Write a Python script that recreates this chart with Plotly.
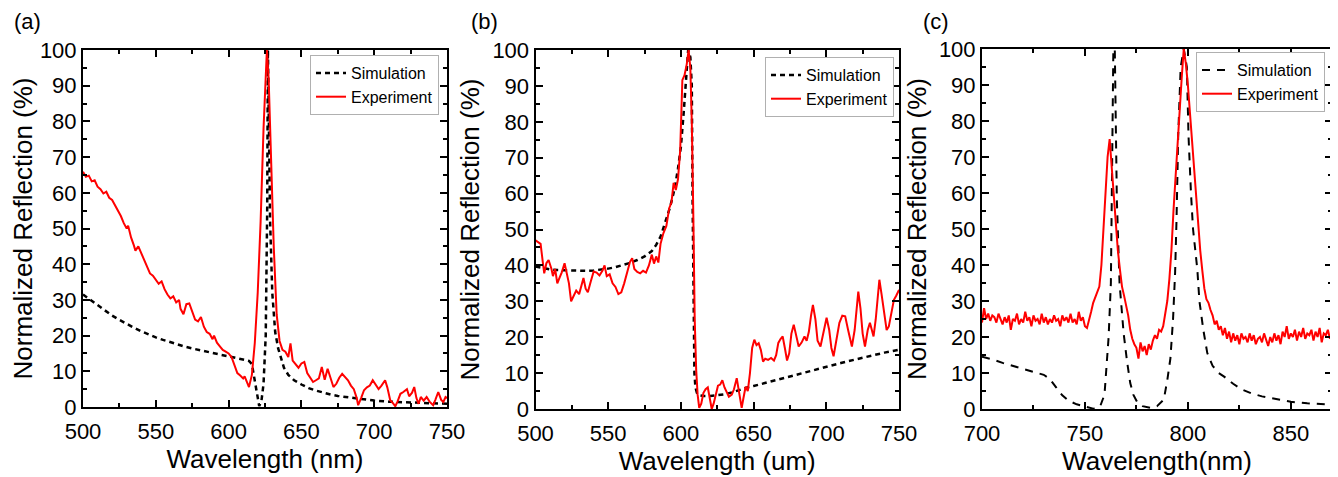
import plotly.graph_objects as go

# ---------------- Panel (a) ----------------
a_sim_x = [500, 505, 510, 515, 520, 525, 530, 535, 540, 545, 550, 555, 560, 565, 570, 575, 580, 585,
           590, 595, 600, 605, 610, 614, 616, 618, 619.5, 621, 622.5, 624, 625.5, 626.5, 627, 627.5,
           628.5, 630, 632, 634, 636, 638, 641, 645, 650, 655, 660, 665, 670, 675, 680, 690, 700, 710,
           720, 730, 740, 750]
a_sim_y = [31.5, 30.0, 28.5, 27.0, 25.6, 24.4, 23.2, 22.2, 21.2, 20.3, 19.5, 18.8, 18.1, 17.5, 16.9, 16.4,
           15.9, 15.4, 15.0, 14.6, 14.2, 13.7, 13.2, 12.9, 12.0, 7.0, 3.0, 0.3, 1.5, 6.5, 20.0, 55.0, 100.0,
           85.0, 52.0, 32.0, 21.0, 16.5, 13.5, 11.0, 9.0, 7.5, 6.3, 5.3, 4.6, 4.0, 3.5, 3.1, 2.8, 2.2, 1.8,
           1.5, 1.3, 1.1, 1.0, 0.9]

a_exp_x = [500, 502, 504, 506, 508, 510, 512, 514, 516, 518, 520, 522, 524, 526, 528, 530, 531, 533, 535,
           536, 538, 540, 542, 544, 546, 548, 550, 552, 554, 556, 558, 560, 562, 564, 566, 567, 569, 571,
           573, 575, 577, 579, 581, 583, 585, 587, 589, 590, 592, 594, 596, 598, 600, 602, 604, 606, 608,
           610, 611, 613, 614, 616, 618, 620, 622, 624, 625.5, 626.3, 627.5, 629, 631, 633, 635, 637, 639,
           641, 642.5, 644, 646, 648, 650, 652, 654, 656, 658, 660, 662, 664, 666, 668, 670, 672, 674, 676,
           678, 680, 682, 684, 686, 688, 689, 691, 693, 695, 697, 699, 701, 703, 705, 707.5, 709, 711, 713,
           714.5, 716, 718, 720, 722.5, 724, 726, 727.5, 729, 730.5, 732, 734, 736, 738, 740.5, 742, 744,
           746, 747.5, 749, 750]
a_exp_y = [65.9, 64.5, 64.8, 63.2, 63.5, 61.7, 61.0, 59.8, 60.3, 58.6, 58.0, 56.5, 55.0, 53.5, 51.5, 50.0,
           50.8, 47.5, 45.2, 43.8, 45.0, 43.0, 41.5, 39.5, 37.4, 36.8, 35.8, 34.5, 35.2, 33.0, 31.5, 30.4,
           31.0, 29.3, 30.0, 27.5, 26.0, 28.8, 29.0, 27.0, 24.5, 24.0, 25.2, 22.5, 21.0, 20.5, 19.0, 20.0,
           18.0, 17.0, 16.0, 15.5, 15.0, 14.0, 11.5, 9.5, 8.8, 8.0, 8.6, 6.5, 5.6, 9.0, 18.0, 32.0, 52.0,
           78.0, 95.0, 100.0, 92.0, 72.0, 45.0, 26.0, 18.5, 16.0, 15.5, 14.0, 17.8, 13.0, 12.0, 11.0, 12.2,
           12.6, 9.5, 8.4, 7.0, 7.5, 8.0, 11.2, 7.6, 10.7, 8.0, 5.6, 6.5, 8.2, 9.3, 8.5, 7.5, 6.0, 5.0, 2.5,
           0.5, 2.5, 4.7, 5.5, 6.0, 7.5, 6.2, 5.0, 6.0, 7.5, 5.5, 1.9, 1.0, 0.2, 1.5, 3.7, 4.2, 5.0, 3.0,
           4.0, 5.6, 2.5, 0.9, 2.8, 1.8, 2.8, 1.5, 0.5, 2.0, 4.2, 2.0, 1.4, 2.8, 2.5]

# ---------------- Panel (b) ----------------
b_sim_x = [500, 505, 510, 515, 520, 525, 530, 535, 540, 545, 550, 555, 560, 565, 570, 575, 580, 583, 586,
           589, 592, 594, 596, 598, 600, 602, 604, 605, 606.5, 607.5, 608, 608.7, 609.3, 610, 611, 613,
           616, 620, 625, 630, 635, 640, 645, 650, 660, 670, 680, 690, 700, 710, 720, 730, 740, 750]
b_sim_y = [39.7, 39.2, 38.9, 38.7, 38.6, 38.5, 38.5, 38.5, 38.6, 38.8, 39.1, 39.5, 40.0, 40.7, 41.5, 42.5,
           44.0, 45.7, 48.0, 51.5, 55.5, 58.5, 62.0, 67.0, 73.0, 83.0, 93.0, 100.0, 98.0, 90.0, 60.0, 25.0,
           10.0, 6.0, 4.5, 3.8, 3.6, 3.6, 3.8, 4.1, 4.6, 5.3, 5.9, 6.4, 7.5, 8.6, 9.7, 10.8, 11.8, 12.8,
           13.8, 14.8, 15.7, 16.5]

b_exp_x = [500, 502, 503.5, 505, 506, 507.5, 509, 511, 512, 513.5, 515, 516.5, 518, 520, 521.5, 523, 524.5,
           526, 528, 530, 531.5, 533, 534.5, 536, 538, 540, 542, 544, 546, 547.5, 549, 551, 553, 555, 557,
           559, 561, 563, 565, 566.5, 568, 570, 572, 574, 576, 578, 580, 581.5, 583, 584.5, 586, 588, 590,
           592, 593.5, 595, 596.5, 598, 599.5, 601, 602.5, 604, 605.3, 606.5, 607.5, 608.5, 609.5, 610.5,
           611.5, 612.6, 614, 615.5, 617, 618.5, 620, 621.2, 622.5, 624, 625.5, 627, 628.5, 630, 631.5,
           633, 635, 636.5, 638.4, 640, 641.8, 643, 644.5, 646, 647.5, 649, 650.5, 652, 653.5, 655, 656.5,
           658, 660, 662, 664, 665.5, 667, 668.5, 670, 671.5, 673, 674.5, 676, 677.6, 679, 681, 683, 685,
           686.5, 688, 689.5, 690.8, 692.5, 694, 696, 698, 700.2, 702, 703.5, 705, 707, 709, 711, 713, 715,
           717.6, 719.5, 721, 722, 723.5, 725, 726.6, 728.5, 730, 731.5, 732.5, 734, 735.5, 736.5, 738, 740,
           741.5, 743, 745, 746.5, 748, 750]
b_exp_y = [47.0, 46.5, 46.0, 41.0, 37.8, 40.6, 41.5, 39.0, 37.0, 39.0, 35.0, 36.5, 38.0, 40.6, 38.0, 35.0,
           30.0, 31.5, 33.0, 32.0, 34.5, 36.5, 33.5, 32.5, 35.5, 38.3, 38.0, 37.2, 38.5, 40.0, 37.0, 37.5,
           35.0, 34.0, 32.0, 32.5, 35.0, 38.0, 41.0, 42.0, 39.0, 38.2, 37.8, 38.5, 38.0, 40.0, 43.0, 40.5,
           42.5, 40.8, 46.0, 49.0, 51.0, 56.0, 57.5, 63.0, 61.0, 64.0, 72.0, 91.6, 93.0, 96.0, 100.0, 95.0,
           80.0, 55.0, 25.0, 11.0, 4.0, 0.3, 1.5, 4.5, 5.5, 6.0, 2.0, 0.0, 1.5, 4.0, 6.5, 6.8, 8.0, 6.0,
           4.5, 3.4, 4.0, 5.5, 8.6, 4.0, 0.3, 3.0, 6.2, 5.0, 10.0, 17.0, 19.3, 17.8, 18.3, 16.4, 13.2, 14.0,
           13.7, 14.2, 13.5, 15.0, 18.4, 19.5, 20.2, 17.0, 13.5, 15.5, 21.0, 23.5, 21.0, 17.4, 18.5, 20.2,
           19.0, 21.5, 26.0, 29.0, 25.0, 19.0, 17.4, 21.0, 25.4, 22.0, 17.0, 14.7, 19.0, 24.0, 26.0, 25.8,
           22.0, 17.4, 22.0, 28.0, 32.7, 28.0, 21.0, 17.4, 22.0, 24.0, 21.5, 20.2, 25.0, 33.0, 36.0, 32.0,
           26.0, 22.0, 23.0, 27.0, 30.4, 31.5, 33.2]

# ---------------- Panel (c) ----------------
c_sim_x = [700, 705, 710, 715, 720, 725, 730, 733, 736, 739, 742, 746, 750, 754, 756, 757.5, 759.5, 760.6,
           761.5, 762.6, 763.1, 763.8, 764.5, 764.9, 765.5, 766.8, 768.8, 770.5, 772, 773.5, 775.3, 778,
           781.8, 785, 788.3, 790, 791.5, 792.8, 793.8, 794.5, 795.3, 796.5, 798, 799.5, 800.3, 801.5,
           802.5, 804.6, 805.6, 807.5, 809.4, 812, 815, 817.6, 822, 826, 830.6, 836, 842, 850, 858, 869]
c_sim_y = [14.5, 13.8, 12.8, 11.9, 11.0, 10.3, 9.5, 8.3, 6.0, 3.8, 2.3, 1.3, 0.7, 0.1, 0.3, 0.9, 4.0, 11.9,
           20.0, 35.0, 58.0, 100.0, 100.0, 76.7, 58.0, 35.0, 21.0, 13.0, 7.2, 4.0, 2.0, 0.8, 0.3, 0.8, 2.6,
           8.0, 14.0, 25.0, 38.0, 53.0, 76.0, 95.0, 100.0, 95.0, 76.0, 60.0, 50.0, 38.7, 30.0, 22.0, 15.6,
           12.0, 10.0, 9.0, 7.0, 5.5, 4.4, 3.5, 2.8, 2.0, 1.6, 1.2]

c_exp_x = list(range(700, 871))
c_exp_y = [24.0, 28.0, 25.0, 26.5, 24.5, 26.0, 25.5, 24.0, 26.5, 25.0, 23.5, 25.5, 24.0, 26.0, 22.0, 25.0,
           24.5, 26.5, 23.5, 25.0, 24.0, 27.0, 24.5, 25.5, 23.0, 26.0, 24.5, 25.0, 23.5, 26.5, 24.0, 25.5,
           23.5, 25.0, 24.0, 26.0, 24.5, 25.0, 23.0, 26.0, 24.5, 25.5, 24.0, 26.5, 24.0, 25.0, 23.5, 27.0,
           24.5, 25.5, 23.0, 22.5, 24.5,
           27.0, 29.5, 31.0, 32.0, 34.0, 40.0, 49.0, 60.0, 70.0, 75.0, 66.5, 58.0, 51.0, 44.0, 38.7, 34.0,
           31.5, 29.0, 26.0, 22.0, 19.5, 18.0, 17.0, 14.0, 18.5, 16.0, 17.5, 15.0, 18.0, 16.5, 19.0, 20.5,
           19.5, 22.0, 21.5, 23.0, 26.0, 30.0, 36.0, 44.0, 55.0, 65.0, 75.0, 84.0, 92.0, 100.0, 96.0, 90.0,
           82.0, 74.0, 67.0, 59.0, 51.0, 44.0, 38.5, 33.5, 30.5, 29.5, 27.5, 26.0, 23.5, 24.5, 22.0, 23.0,
           20.5, 22.5, 19.5, 21.5, 18.5, 21.0, 19.0, 20.5, 18.0, 21.0, 19.5, 20.0, 18.5, 21.0, 19.0, 20.5,
           18.0, 19.5, 20.0, 18.5, 21.0, 19.5, 17.5, 20.0, 18.5, 21.0, 19.0, 20.5, 18.0, 21.5, 20.0, 23.0,
           19.5, 21.0, 20.0, 22.0, 19.0, 21.5, 20.0, 22.5, 19.5, 21.0, 20.5, 22.0, 19.0, 21.5, 20.0, 22.5,
           18.5, 21.0, 20.5, 22.0, 19.5, 21.0]

x_ticks_ab = [500, 550, 600, 650, 700, 750]
x_ticks_c = [700, 750, 800, 850]
y_ticks = [0, 10, 20, 30, 40, 50, 60, 70, 80, 90, 100]

# page has an 8px body margin; the figure is sized to fit the 1338x477 window
OFF = 8
W, H = 1338 - OFF, 477 - OFF
FONT = "Liberation Sans, Arial, sans-serif"
RED = "#ff0000"


def fx(px):
    return (px - OFF) / W


def fy(py):
    return (H - (py - OFF)) / H


fig = go.Figure()

fig.add_trace(go.Scatter(x=a_sim_x, y=a_sim_y, mode="lines", name="Simulation",
                         line=dict(color="black", width=2.5, dash="5px,4px"), legend="legend"))
fig.add_trace(go.Scatter(x=a_exp_x, y=a_exp_y, mode="lines", name="Experiment",
                         line=dict(color=RED, width=2), legend="legend"))
fig.add_trace(go.Scatter(x=b_sim_x, y=b_sim_y, mode="lines", name="Simulation", xaxis="x2", yaxis="y2",
                         line=dict(color="black", width=2.5, dash="5px,4px"), legend="legend2"))
fig.add_trace(go.Scatter(x=b_exp_x, y=b_exp_y, mode="lines", name="Experiment", xaxis="x2", yaxis="y2",
                         line=dict(color=RED, width=2), legend="legend2"))
fig.add_trace(go.Scatter(x=c_sim_x, y=c_sim_y, mode="lines", name="Simulation", xaxis="x3", yaxis="y3",
                         line=dict(color="black", width=2, dash="8px,7px"), legend="legend3"))
fig.add_trace(go.Scatter(x=c_exp_x, y=c_exp_y, mode="lines", name="Experiment", xaxis="x3", yaxis="y3",
                         line=dict(color=RED, width=2), legend="legend3"))


def xax(dom, rng, ticks, title, anchor):
    return dict(domain=dom, range=rng, tickvals=ticks, anchor=anchor, automargin=False,
                showline=True, linecolor="black", linewidth=2, mirror="allticks",
                ticks="inside", ticklen=7, tickwidth=1.5, tickcolor="black",
                minor=dict(ticks="inside", ticklen=4, tickwidth=1.5, dtick=25, tickcolor="black"),
                showgrid=False, zeroline=False, ticklabelstandoff=4,
                tickfont=dict(family=FONT, size=22, color="black"),
                title=dict(text=title, font=dict(family=FONT, size=26, color="black"), standoff=5))


def yax(dom, title, anchor):
    return dict(domain=dom, range=[0, 100], tickvals=y_ticks, anchor=anchor, automargin=False,
                showline=True, linecolor="black", linewidth=2, mirror="allticks",
                ticks="inside", ticklen=7, tickwidth=1.5, tickcolor="black",
                minor=dict(ticks="inside", ticklen=4, tickwidth=1.5, dtick=5, tickcolor="black"),
                showgrid=False, zeroline=False,
                tickfont=dict(family=FONT, size=22, color="black"),
                title=dict(text=title, font=dict(family=FONT, size=26, color="black"), standoff=5))


def leg(xr, yt):
    return dict(x=fx(xr), y=fy(yt), xanchor="right", yanchor="top",
                bgcolor="white", bordercolor="#b0b0b0", borderwidth=1,
                font=dict(family=FONT, size=16, color="black"), itemwidth=30,
                tracegroupgap=0)


def label(text, px, py):
    return dict(text=text, x=fx(px), y=fy(py), xref="paper", yref="paper", showarrow=False,
                xanchor="center", yanchor="middle", font=dict(family=FONT, size=22, color="black"))


ya = "Normalized Reflection (%)"
fig.update_layout(
    width=W, height=H, margin=dict(l=0, r=0, t=0, b=0, pad=0, autoexpand=False),
    paper_bgcolor="white", plot_bgcolor="white",
    xaxis=xax([fx(83), fx(447)], [500, 750], x_ticks_ab, "Wavelength (nm)", "y"),
    yaxis=yax([fy(407), fy(50)], ya, "x"),
    xaxis2=xax([fx(535.5), fx(899)], [500, 750], x_ticks_ab, "Wavelength (um)", "y2"),
    yaxis2=yax([fy(409), fy(50)], ya, "x2"),
    xaxis3=xax([fx(982), fx(1332)], [700, 870], x_ticks_c, "Wavelength(nm)", "y3"),
    yaxis3=yax([fy(409), fy(49)], ya, "x3"),
    legend=leg(439, 55),
    legend2=leg(894, 57),
    legend3=leg(1325, 52),
    showlegend=True,
    annotations=[label("(a)", 27, 22), label("(b)", 484, 22), label("(c)", 936, 22)],
)

fig.write_html("out.html")
